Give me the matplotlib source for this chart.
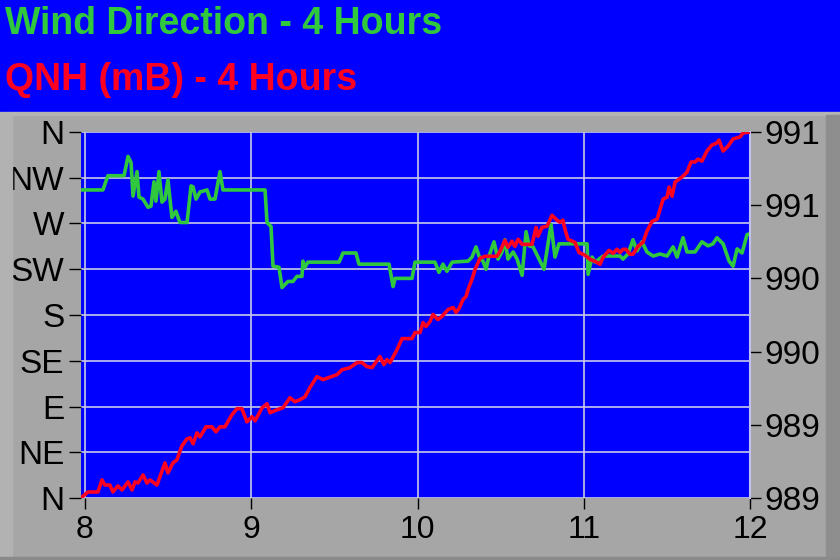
import matplotlib
matplotlib.use("Agg")
import matplotlib.pyplot as plt
from matplotlib.patches import Rectangle

# wind direction (degrees) against time (hours)
wind_t = [7.982, 8.108, 8.138, 8.235, 8.259, 8.277, 8.289, 8.313, 8.325, 8.349,
          8.379, 8.397, 8.415, 8.427, 8.445, 8.463, 8.481, 8.499, 8.523, 8.547,
          8.571, 8.614, 8.638, 8.650, 8.668, 8.692, 8.734, 8.752, 8.782, 8.812,
          8.830, 9.083, 9.095, 9.119, 9.131, 9.167, 9.185, 9.221, 9.251, 9.275,
          9.305, 9.311, 9.323, 9.341, 9.528, 9.552, 9.630, 9.648, 9.829, 9.853,
          9.865, 9.967, 9.985, 10.105, 10.129, 10.153, 10.177, 10.208, 10.304, 10.328,
          10.352, 10.376, 10.394, 10.412, 10.430, 10.460, 10.484, 10.508, 10.526, 10.544,
          10.575, 10.599, 10.629, 10.653, 10.671, 10.695, 10.761, 10.803, 10.827, 10.851,
          11.020, 11.026, 11.050, 11.068, 11.116, 11.218, 11.236, 11.266, 11.296, 11.320,
          11.350, 11.380, 11.417, 11.459, 11.501, 11.537, 11.561, 11.597, 11.621, 11.669,
          11.711, 11.747, 11.777, 11.801, 11.838, 11.874, 11.898, 11.922, 11.952, 11.982,
          12.000]
wind_deg = [303, 303, 317, 317, 336, 330, 297, 321, 296, 294,
            286, 287, 311, 292, 321, 291, 294, 313, 276, 282,
            271, 271, 307, 306, 294, 301, 303, 294, 294, 321,
            303, 303, 271, 267, 228, 227, 207, 213, 213, 218,
            218, 233, 227, 232, 232, 241, 241, 230, 230, 208,
            216, 216, 232, 232, 222, 230, 223, 232, 233, 237,
            247, 235, 233, 225, 238, 252, 235, 242, 254, 235,
            242, 235, 219, 262, 248, 247, 225, 269, 237, 250,
            250, 220, 237, 232, 238, 238, 235, 240, 254, 243,
            252, 242, 238, 240, 238, 247, 237, 256, 242, 242,
            252, 248, 250, 256, 250, 233, 228, 245, 241, 259,
            260]

# QNH (mB) against time (hours)
qnh_t = [7.982, 8.018, 8.078, 8.102, 8.120, 8.150, 8.168, 8.198, 8.223, 8.259,
         8.283, 8.301, 8.319, 8.349, 8.373, 8.391, 8.433, 8.481, 8.499, 8.529,
         8.553, 8.583, 8.614, 8.632, 8.650, 8.674, 8.692, 8.728, 8.764, 8.788,
         8.812, 8.842, 8.884, 8.914, 8.944, 8.974, 9.005, 9.023, 9.065, 9.095,
         9.113, 9.155, 9.191, 9.233, 9.263, 9.293, 9.323, 9.353, 9.395, 9.432,
         9.516, 9.546, 9.594, 9.636, 9.666, 9.696, 9.726, 9.774, 9.798, 9.816,
         9.835, 9.877, 9.907, 9.967, 9.985, 10.015, 10.033, 10.051, 10.075, 10.093,
         10.123, 10.147, 10.184, 10.214, 10.232, 10.250, 10.274, 10.292, 10.304, 10.328,
         10.346, 10.376, 10.406, 10.478, 10.496, 10.526, 10.544, 10.568, 10.586, 10.605,
         10.629, 10.689, 10.713, 10.725, 10.749, 10.779, 10.809, 10.839, 10.857, 10.875,
         10.887, 10.905, 10.947, 10.971, 11.008, 11.038, 11.068, 11.098, 11.116, 11.152,
         11.176, 11.200, 11.218, 11.236, 11.254, 11.278, 11.296, 11.326, 11.356, 11.380,
         11.411, 11.441, 11.459, 11.477, 11.501, 11.513, 11.531, 11.549, 11.573, 11.597,
         11.621, 11.645, 11.669, 11.687, 11.711, 11.741, 11.771, 11.801, 11.813, 11.838,
         11.868, 11.898, 11.940, 11.958, 12.000]
qnh = [989.005, 989.033, 989.033, 989.099, 989.071, 989.071, 989.033, 989.066, 989.044, 989.088,
       989.044, 989.088, 989.082, 989.126, 989.082, 989.099, 989.071, 989.192, 989.137, 989.192,
       989.208, 989.285, 989.323, 989.329, 989.296, 989.356, 989.334, 989.389, 989.389, 989.362,
       989.389, 989.389, 989.455, 989.488, 989.488, 989.416, 989.444, 989.422, 989.493, 989.515,
       989.466, 989.482, 989.493, 989.548, 989.526, 989.537, 989.553, 989.603, 989.663, 989.647,
       989.674, 989.701, 989.712, 989.740, 989.740, 989.718, 989.712, 989.773, 989.729, 989.756,
       989.740, 989.811, 989.871, 989.871, 989.904, 989.904, 989.959, 989.937, 989.964, 990.003,
       989.975, 989.992, 990.030, 990.041, 990.014, 990.036, 990.085, 990.101, 990.140, 990.195,
       990.249, 990.310, 990.321, 990.321, 990.348, 990.408, 990.370, 990.403, 990.375, 990.414,
       990.386, 990.386, 990.479, 990.430, 990.479, 990.485, 990.545, 990.518, 990.507, 990.518,
       990.468, 990.414, 990.397, 990.342, 990.326, 990.304, 990.293, 990.277, 990.315, 990.353,
       990.337, 990.359, 990.342, 990.359, 990.359, 990.332, 990.332, 990.375, 990.397, 990.458,
       990.512, 990.523, 990.578, 990.633, 990.644, 990.699, 990.649, 990.726, 990.742, 990.759,
       990.781, 990.836, 990.836, 990.852, 990.841, 990.896, 990.929, 990.940, 990.956, 990.896,
       990.923, 990.962, 990.973, 990.995, 991.000]

compass_ticks = [0, 45, 90, 135, 180, 225, 270, 315, 360]
compass_labels = ['N', 'NE', 'E', 'SE', 'S', 'SW', 'W', 'NW', 'N']
hour_ticks = [8, 9, 10, 11, 12]
qnh_ticks = [989.0, 989.4, 989.8, 990.2, 990.6, 991.0]

green = '#30c83c'
red = '#ff0020'
blue = '#0000ff'
gray = '#a6a6a6'
gridc = '#c8c8e6'

plt.rcParams['font.family'] = ['Liberation Sans', 'DejaVu Sans']

fig = plt.figure(figsize=(8.4, 5.6), dpi=100)
fig.patch.set_facecolor(gray)

# header and frame decoration
fig.patches.append(Rectangle((0, 0.8), 1, 0.2, transform=fig.transFigure, color=blue, zorder=0))
fig.patches.append(Rectangle((0, 0.795), 1, 0.005, transform=fig.transFigure, color='#b4b4b4', zorder=0))
fig.patches.append(Rectangle((0, 0.005), 0.014, 0.79, transform=fig.transFigure, color='#b2b2b2', zorder=0))
fig.patches.append(Rectangle((0.983, 0.005), 0.017, 0.79, transform=fig.transFigure, color='#8e8e8e', zorder=0))
fig.patches.append(Rectangle((0, 0), 1, 0.006, transform=fig.transFigure, color='#8a8a8a', zorder=0))

fig.text(0.006, 0.939, 'Wind Direction - 4 Hours', color=green, fontsize=27,
         fontweight='bold', va='baseline', ha='left')
fig.text(0.006, 0.840, 'QNH (mB) - 4 Hours', color=red, fontsize=27,
         fontweight='bold', va='baseline', ha='left')

ax = fig.add_axes([0.0964, 0.1107, 0.7965, 0.6536])
ax.set_facecolor(blue)
ax.set_xlim(7.976, 12.0)
ax.set_ylim(0, 360)
ax.set_xticks(hour_ticks)
ax.set_yticks(compass_ticks)
ax.set_yticklabels(compass_labels)
ax.grid(True, color=gridc, linewidth=1.2)
ax.set_axisbelow(True)
ax.tick_params(axis='y', labelsize=24, length=9, width=1, pad=3, colors='black')
ax.tick_params(axis='x', labelsize=23, length=8, width=1, pad=4, colors='black')
for s in ax.spines.values():
    s.set_visible(False)

ax2 = ax.twinx()
ax2.set_ylim(989.0, 991.0)
ax2.set_yticks(qnh_ticks)
ax2.set_yticklabels(['%.0f' % v for v in qnh_ticks])
ax2.tick_params(axis='y', labelsize=24, length=8, width=1, pad=2, colors='black')
for s in ax2.spines.values():
    s.set_visible(False)
ax2.spines['right'].set_visible(True)
ax2.spines['right'].set_color('#c0c0f0')
ax2.spines['right'].set_linewidth(1.5)

ax.plot(wind_t, wind_deg, color=green, linewidth=2.6, zorder=3)
ax2.plot(qnh_t, qnh, color=red, linewidth=2.6, zorder=4)

fig.savefig('out.png', dpi=100, facecolor=fig.get_facecolor())
